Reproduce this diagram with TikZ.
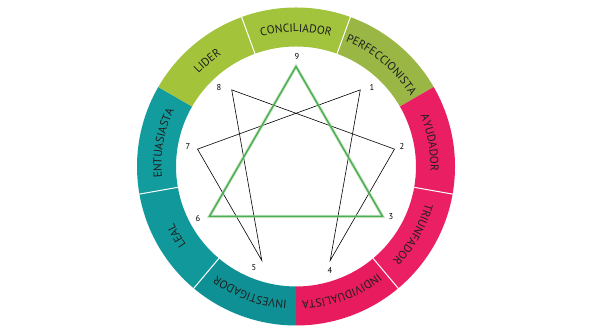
\documentclass[tikz,border=0pt]{standalone}
\usepackage{fontspec}
\setmainfont{PT Sans}
\usetikzlibrary{decorations.text}
\definecolor{gLid}{HTML}{A3C43A}
\definecolor{gCon}{HTML}{A2C33C}
\definecolor{gPer}{HTML}{9AB745}
\definecolor{pAyu}{HTML}{EA1E63}
\definecolor{pTri}{HTML}{EB1F64}
\definecolor{pInd}{HTML}{E81B5E}
\definecolor{tInv}{HTML}{0F9094}
\definecolor{tLea}{HTML}{10989A}
\definecolor{tEnt}{HTML}{139C9D}
\definecolor{ringtext}{HTML}{1E1E1E}
\definecolor{triG}{HTML}{4DAE50}
\newcommand\ringfont{\fontsize{11.5}{12}\selectfont}
\begin{document}
\begin{tikzpicture}[x=1pt,y=1pt,
  num/.style={font=\fontsize{8.5}{9}\selectfont, inner sep=0pt, text=black},
  sep/.style={draw=white, line width=1pt},
  hexline/.style={draw=black, line width=0.6pt, line join=miter},
  triglow/.style={draw=triG!55, line width=3.4pt, opacity=0.45, line join=miter},
  trimain/.style={draw=triG, line width=1.5pt, line join=miter},
  ringlabel/.style={decorate, decoration={text along path, text align=center, text color=ringtext, text={|\ringfont|#1}}}
]
\useasboundingbox (0,0) rectangle (596,336);
\fill[white] (0,0) rectangle (596,336);
\begin{scope}[shift={(296,169.5)}]
  % ring segments
  \foreach \a/\b/\c in {70/110/gCon, 30/70/gPer, -10/30/pAyu, -50/-10/pTri, -90/-50/pInd, -130/-90/tInv, -170/-130/tLea, 150/190/tEnt, 110/150/gLid}
    \fill[\c] (\a:159) arc[start angle=\a, end angle=\b, radius=159] -- (\b:120) arc[start angle=\b, end angle=\a, radius=120] -- cycle;
  % white separators
  \foreach \a in {70,110,-10,-50,-130,-170}
    \draw[sep] (\a:119) -- (\a:168);
  % ring labels (clockwise, tops outward)
  \path[ringlabel=CONCILIADOR] (110:134.5) arc[start angle=110, end angle=70, radius=134.5];
  \path[ringlabel=PERFECCIONISTA] (70:134.5) arc[start angle=70, end angle=30, radius=134.5];
  \path[ringlabel=AYUDADOR] (30:134.5) arc[start angle=30, end angle=-10, radius=134.5];
  \path[ringlabel=TRIUNFADOR] (-10:134.5) arc[start angle=-10, end angle=-50, radius=134.5];
  \path[ringlabel=INDIVIDUALISTA] (-50:134.5) arc[start angle=-50, end angle=-90, radius=134.5];
  \path[ringlabel=INVESTIGADOR] (-90:134.5) arc[start angle=-90, end angle=-130, radius=134.5];
  \path[ringlabel=LEAL] (-130:134.5) arc[start angle=-130, end angle=-170, radius=134.5];
  \path[ringlabel=ENTUASIASTA] (190:134.5) arc[start angle=190, end angle=150, radius=134.5];
  \path[ringlabel=LIDER] (150:134.5) arc[start angle=150, end angle=110, radius=134.5];
  % enneagram points
  \foreach \k in {1,...,9}
    \coordinate (p\k) at ({90-40*\k}:100);
  % hexad
  \draw[hexline] (p1) -- (p4) -- (p2) -- (p8) -- (p5) -- (p7) -- cycle;
  % triangle
  \draw[triglow] (p9) -- (p3) -- (p6) -- cycle;
  \draw[trimain] (p9) -- (p3) -- (p6) -- cycle;
  % number labels
  \node[num] (n9) at (1,109.5) {9};
  \node[num] (n1) at (76,79.5) {1};
  \node[num] (n2) at (106,20.5) {2};
  \node[num] (n3) at (95,-50.5) {3};
  \node[num] (n4) at (34,-103.5) {4};
  \node[num] (n5) at (-42,-101.5) {5};
  \node[num] (n6) at (-98,-52.5) {6};
  \node[num] (n7) at (-108,19.5) {7};
  \node[num] (n8) at (-77,78.5) {8};
\end{scope}
\end{tikzpicture}
\end{document}
